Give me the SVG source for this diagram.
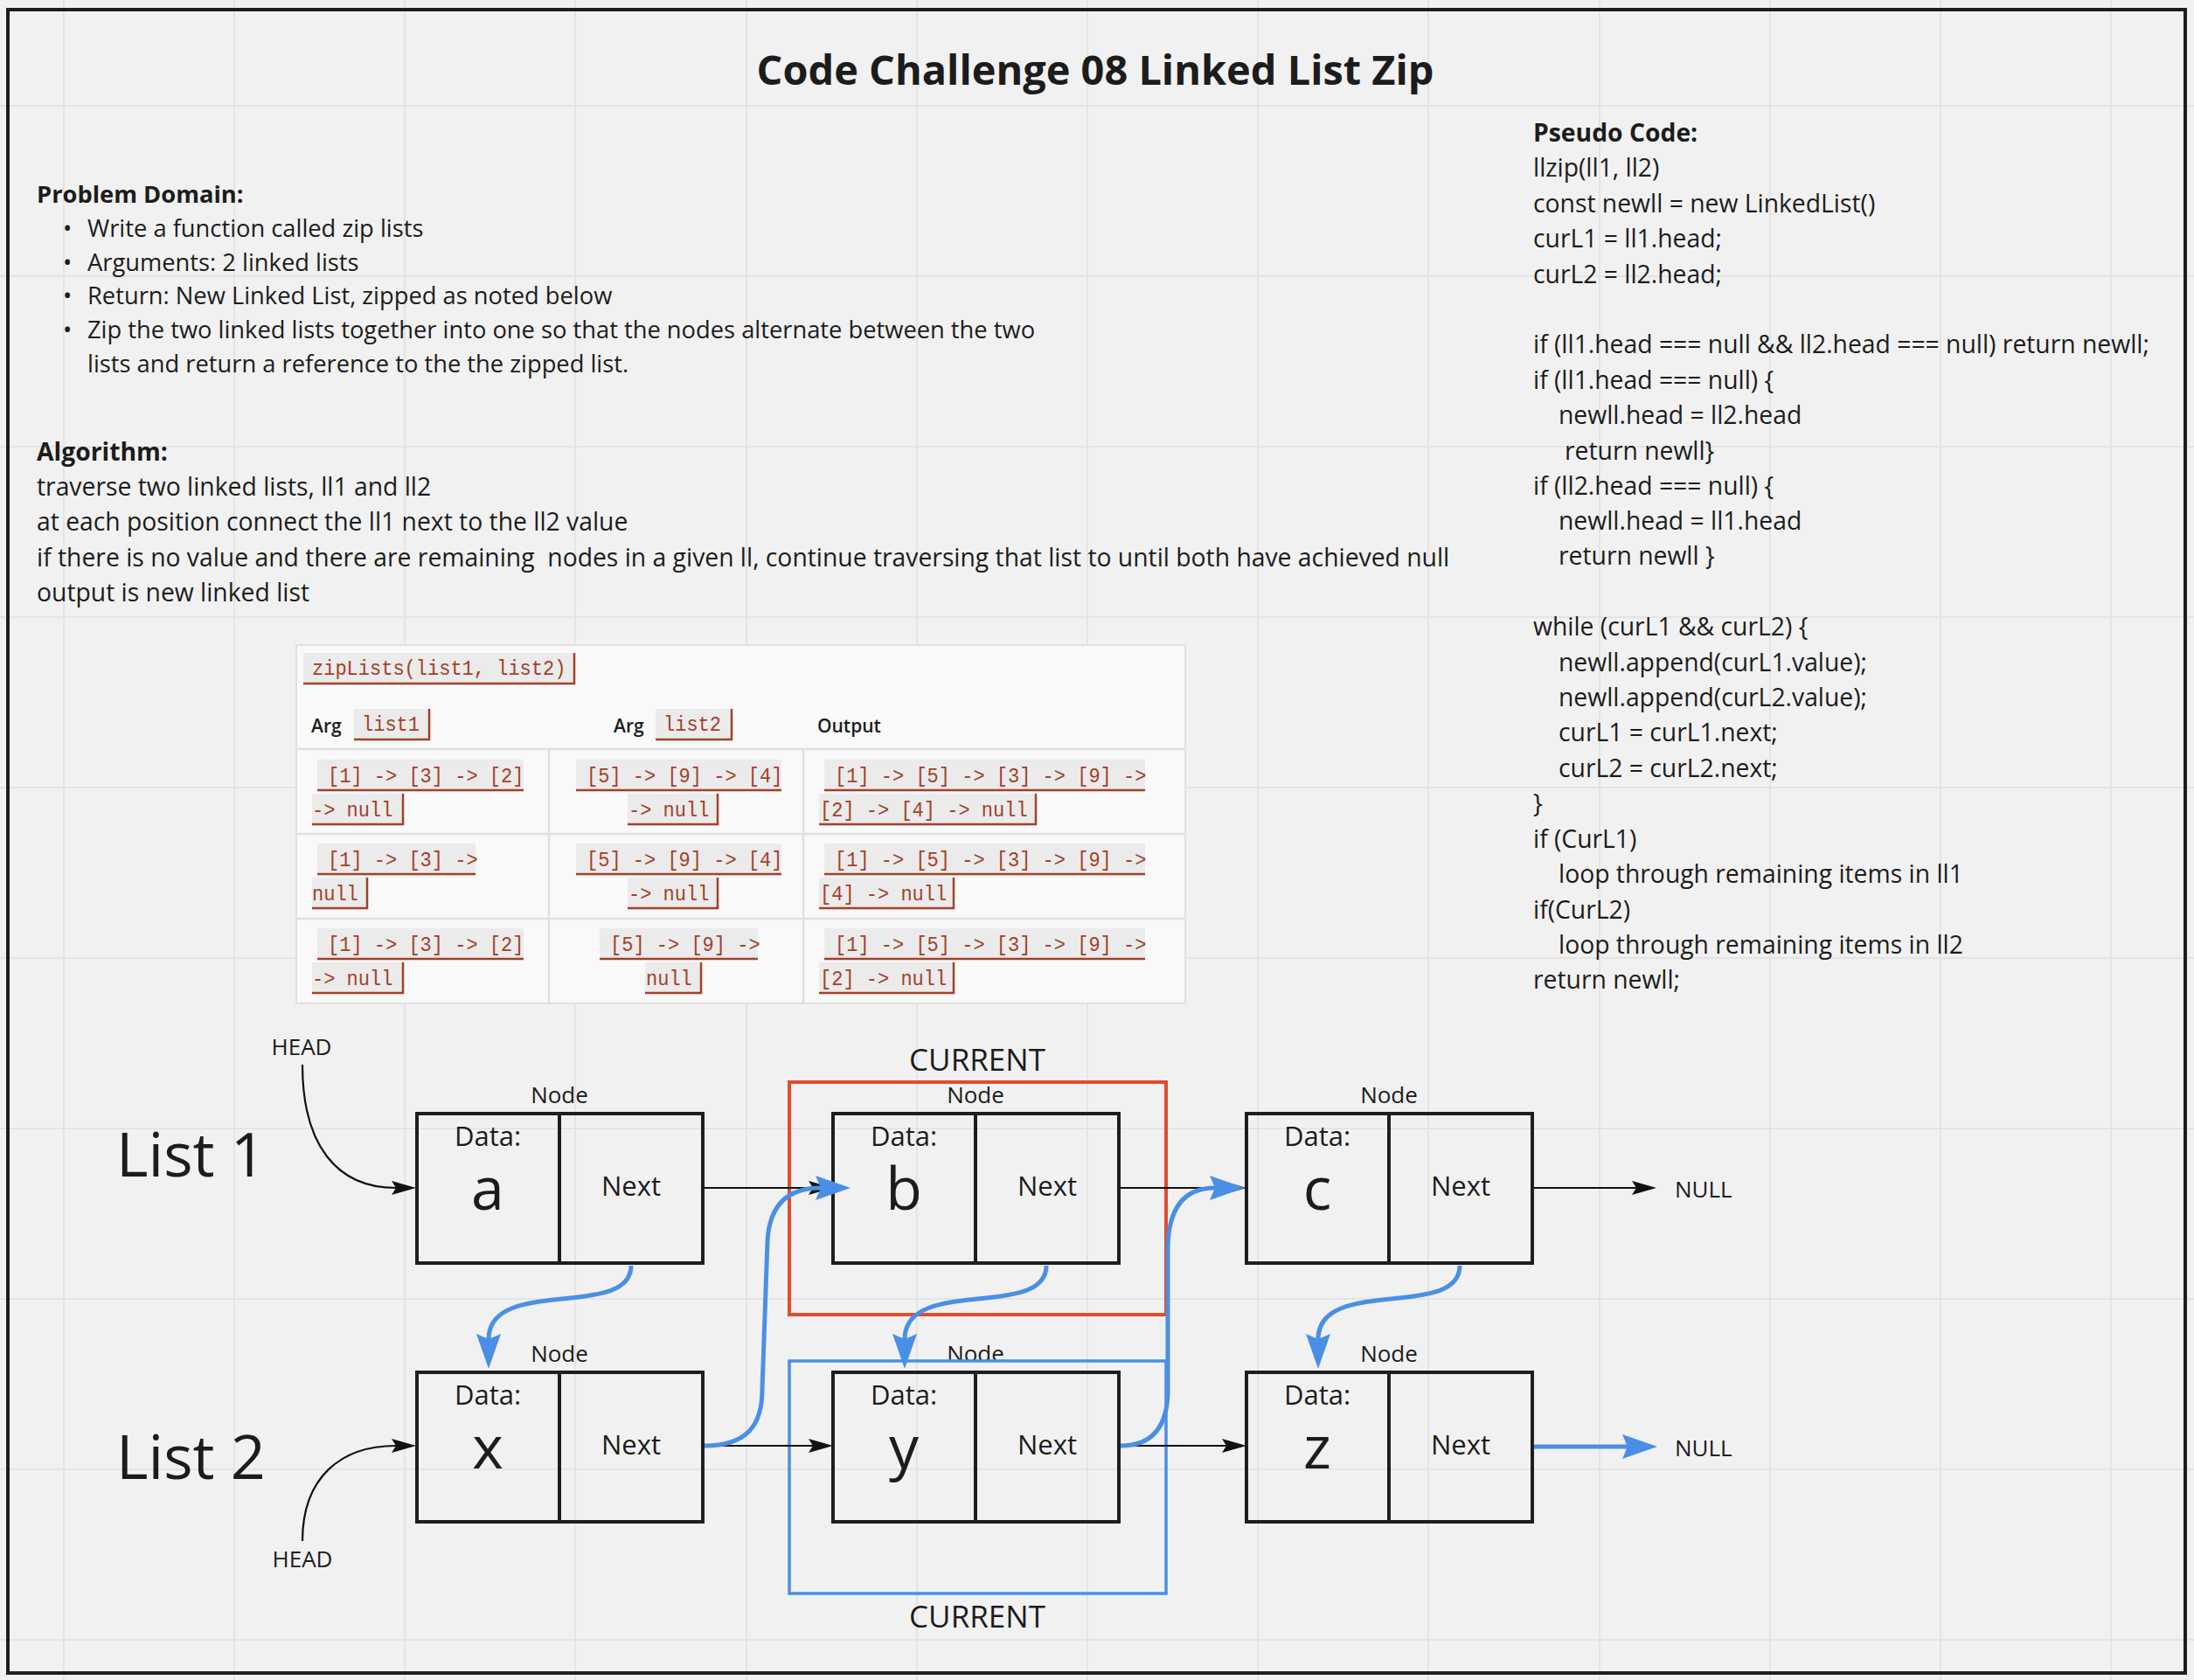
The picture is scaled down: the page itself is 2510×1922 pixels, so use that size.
<svg xmlns="http://www.w3.org/2000/svg" width="2510" height="1922" viewBox="0 0 2510 1922">
<style>
.t{font-family:"Open Sans","Noto Sans",sans-serif;fill:#1c1c1c}
.bd{font-weight:700}
.pd{font-size:27.3px}
.al{font-size:28.3px}
.ps{font-size:28.3px}
.code{font-family:"Liberation Mono","DejaVu Sans Mono",monospace;font-size:24.5px;fill:#a3402a;white-space:pre}
.chip{fill:#ebebeb}
.cb{fill:none;stroke:#a3402a;stroke-width:2.5}
.th{font-family:"Open Sans","Noto Sans",sans-serif;font-size:21px;font-weight:600;fill:#1c1c1c}
.box{fill:none;stroke:#1e1e1e;stroke-width:4}
.nl{font-size:26px;text-anchor:middle}
.dl{font-size:31px;text-anchor:middle}
.val{font-size:68px;text-anchor:middle}
.blk{fill:none;stroke:#111;stroke-width:2.2}
.blu{fill:none;stroke:#4a8fe6;stroke-width:5}
</style>
<defs>
<marker id="ab" markerUnits="userSpaceOnUse" markerWidth="30" markerHeight="18" viewBox="0 0 30 18" refX="5" refY="8" orient="auto">
<path d="M0,0 L28,8 L0,16 L5,8 Z" fill="#111"/>
</marker>
<marker id="au" markerUnits="userSpaceOnUse" markerWidth="42" markerHeight="30" viewBox="0 0 42 30" refX="6" refY="14" orient="auto">
<path d="M0,0 L40,14 L0,28 L6,14 Z" fill="#4a8fe6"/>
</marker>
</defs>
<rect x="0" y="0" width="2510" height="1922" fill="#f1f1f1"/>
<path d="M73 0V1922M268 0V1922M463 0V1922M658 0V1922M854 0V1922M1049 0V1922M1244 0V1922M1439 0V1922M1634 0V1922M1830 0V1922M2025 0V1922M2220 0V1922M2415 0V1922M0 121H2510M0 316H2510M0 511H2510M0 706H2510M0 901H2510M0 1096H2510M0 1291H2510M0 1486H2510M0 1681H2510M0 1876H2510" stroke="#e4e4e4" stroke-width="2" fill="none"/>
<rect x="9" y="11" width="2491" height="1903" fill="none" stroke="#1e1e1e" stroke-width="4"/>

<text class="t bd" x="1253" y="97" font-size="46.9" text-anchor="middle">Code Challenge 08 Linked List Zip</text>

<g id="problem-domain">
<text class="t bd pd" x="42" y="232">Problem Domain:</text>
<text class="t pd" x="72" y="271">•</text><text class="t pd" x="100" y="271">Write a function called zip lists</text>
<text class="t pd" x="72" y="310">•</text><text class="t pd" x="100" y="310">Arguments: 2 linked lists</text>
<text class="t pd" x="72" y="348">•</text><text class="t pd" x="100" y="348">Return: New Linked List, zipped as noted below</text>
<text class="t pd" x="72" y="387">•</text><text class="t pd" x="100" y="387">Zip the two linked lists together into one so that the nodes alternate between the two</text>
<text class="t pd" x="100" y="426">lists and return a reference to the the zipped list.</text>
</g>

<g id="algorithm">
<text class="t bd al" x="42" y="527">Algorithm:</text>
<text class="t al" x="42" y="567">traverse two linked lists, ll1 and ll2</text>
<text class="t al" x="42" y="607">at each position connect the ll1 next to the ll2 value</text>
<text class="t al" x="42" y="648" style="white-space:pre">if there is no value and there are remaining  nodes in a given ll, continue traversing that list to until both have achieved null</text>
<text class="t al" x="42" y="688">output is new linked list</text>
</g>

<g id="pseudo-code">
<text class="t bd ps" x="1754" y="162">Pseudo Code:</text>
<text class="t ps" x="1754" y="202">llzip(ll1, ll2)</text>
<text class="t ps" x="1754" y="243">const newll = new LinkedList()</text>
<text class="t ps" x="1754" y="283">curL1 = ll1.head;</text>
<text class="t ps" x="1754" y="324">curL2 = ll2.head;</text>
<text class="t ps" x="1754" y="404">if (ll1.head === null &amp;&amp; ll2.head === null) return newll;</text>
<text class="t ps" x="1754" y="445">if (ll1.head === null) {</text>
<text class="t ps" x="1783" y="485">newll.head = ll2.head</text>
<text class="t ps" x="1790" y="526">return newll}</text>
<text class="t ps" x="1754" y="566">if (ll2.head === null) {</text>
<text class="t ps" x="1783" y="606">newll.head = ll1.head</text>
<text class="t ps" x="1783" y="646">return newll }</text>
<text class="t ps" x="1754" y="727">while (curL1 &amp;&amp; curL2) {</text>
<text class="t ps" x="1783" y="768">newll.append(curL1.value);</text>
<text class="t ps" x="1783" y="808">newll.append(curL2.value);</text>
<text class="t ps" x="1783" y="848">curL1 = curL1.next;</text>
<text class="t ps" x="1783" y="889">curL2 = curL2.next;</text>
<text class="t ps" x="1754" y="929">}</text>
<text class="t ps" x="1754" y="970">if (CurL1)</text>
<text class="t ps" x="1783" y="1010">loop through remaining items in ll1</text>
<text class="t ps" x="1754" y="1051">if(CurL2)</text>
<text class="t ps" x="1783" y="1091">loop through remaining items in ll2</text>
<text class="t ps" x="1754" y="1131">return newll;</text>
</g>

<g id="example-table">
<rect x="339" y="738" width="1017" height="410" fill="#f9f9f9" stroke="#e0e0e0" stroke-width="2"/>
<path d="M339 857H1356M339 954H1356M339 1051H1356M628 857V1148M919 857V1148" stroke="#e0e0e0" stroke-width="2.5" fill="none"/>
<rect class="chip" x="347" y="747" width="310" height="35"/><path class="cb" d="M347 782H657V747"/>
<text class="code" x="357" y="772" textLength="290.4" lengthAdjust="spacingAndGlyphs">zipLists(list1, list2)</text>
<text class="th" x="356" y="838">Arg</text>
<rect class="chip" x="405" y="811" width="86" height="35"/><path class="cb" d="M405 846H491V811"/>
<text class="code" x="414" y="836" textLength="66" lengthAdjust="spacingAndGlyphs">list1</text>
<text class="th" x="702" y="838">Arg</text>
<rect class="chip" x="750" y="811" width="87" height="35"/><path class="cb" d="M750 846H837V811"/>
<text class="code" x="759" y="836" textLength="66" lengthAdjust="spacingAndGlyphs">list2</text>
<text class="th" x="935" y="838">Output</text>

<rect class="chip" x="363" y="869" width="236" height="35"/><path class="cb" d="M363 904H599"/>
<text class="code" x="375" y="895" textLength="224.4" lengthAdjust="spacingAndGlyphs">[1] -&gt; [3] -&gt; [2]</text>
<rect class="chip" x="357" y="908" width="104" height="35"/><path class="cb" d="M357 943H461V908"/>
<text class="code" x="357" y="934" textLength="92.4" lengthAdjust="spacingAndGlyphs">-&gt; null</text>
<rect class="chip" x="659" y="869" width="235" height="35"/><path class="cb" d="M659 904H894"/>
<text class="code" x="671" y="895" textLength="224.4" lengthAdjust="spacingAndGlyphs">[5] -&gt; [9] -&gt; [4]</text>
<rect class="chip" x="718" y="908" width="103" height="35"/><path class="cb" d="M718 943H821V908"/>
<text class="code" x="719" y="934" textLength="92.4" lengthAdjust="spacingAndGlyphs">-&gt; null</text>
<rect class="chip" x="943" y="869" width="367" height="35"/><path class="cb" d="M943 904H1310"/>
<text class="code" x="955" y="895" textLength="356.4" lengthAdjust="spacingAndGlyphs">[1] -&gt; [5] -&gt; [3] -&gt; [9] -&gt;</text>
<rect class="chip" x="937" y="908" width="248" height="35"/><path class="cb" d="M937 943H1185V908"/>
<text class="code" x="938" y="934" textLength="237.6" lengthAdjust="spacingAndGlyphs">[2] -&gt; [4] -&gt; null</text>

<rect class="chip" x="363" y="965" width="181" height="35"/><path class="cb" d="M363 1000H544"/>
<text class="code" x="375" y="991" textLength="171.6" lengthAdjust="spacingAndGlyphs">[1] -&gt; [3] -&gt;</text>
<rect class="chip" x="357" y="1004" width="63" height="35"/><path class="cb" d="M357 1039H420V1004"/>
<text class="code" x="357" y="1030" textLength="52.8" lengthAdjust="spacingAndGlyphs">null</text>
<rect class="chip" x="659" y="965" width="235" height="35"/><path class="cb" d="M659 1000H894"/>
<text class="code" x="671" y="991" textLength="224.4" lengthAdjust="spacingAndGlyphs">[5] -&gt; [9] -&gt; [4]</text>
<rect class="chip" x="718" y="1004" width="103" height="35"/><path class="cb" d="M718 1039H821V1004"/>
<text class="code" x="719" y="1030" textLength="92.4" lengthAdjust="spacingAndGlyphs">-&gt; null</text>
<rect class="chip" x="943" y="965" width="367" height="35"/><path class="cb" d="M943 1000H1310"/>
<text class="code" x="955" y="991" textLength="356.4" lengthAdjust="spacingAndGlyphs">[1] -&gt; [5] -&gt; [3] -&gt; [9] -&gt;</text>
<rect class="chip" x="937" y="1004" width="154" height="35"/><path class="cb" d="M937 1039H1091V1004"/>
<text class="code" x="938" y="1030" textLength="145.2" lengthAdjust="spacingAndGlyphs">[4] -&gt; null</text>

<rect class="chip" x="363" y="1062" width="236" height="35"/><path class="cb" d="M363 1097H599"/>
<text class="code" x="375" y="1088" textLength="224.4" lengthAdjust="spacingAndGlyphs">[1] -&gt; [3] -&gt; [2]</text>
<rect class="chip" x="357" y="1101" width="104" height="35"/><path class="cb" d="M357 1136H461V1101"/>
<text class="code" x="357" y="1127" textLength="92.4" lengthAdjust="spacingAndGlyphs">-&gt; null</text>
<rect class="chip" x="686" y="1062" width="181" height="35"/><path class="cb" d="M686 1097H867"/>
<text class="code" x="698" y="1088" textLength="171.6" lengthAdjust="spacingAndGlyphs">[5] -&gt; [9] -&gt;</text>
<rect class="chip" x="738" y="1101" width="64" height="35"/><path class="cb" d="M738 1136H802V1101"/>
<text class="code" x="739" y="1127" textLength="52.8" lengthAdjust="spacingAndGlyphs">null</text>
<rect class="chip" x="943" y="1062" width="367" height="35"/><path class="cb" d="M943 1097H1310"/>
<text class="code" x="955" y="1088" textLength="356.4" lengthAdjust="spacingAndGlyphs">[1] -&gt; [5] -&gt; [3] -&gt; [9] -&gt;</text>
<rect class="chip" x="937" y="1101" width="154" height="35"/><path class="cb" d="M937 1136H1091V1101"/>
<text class="code" x="938" y="1127" textLength="145.2" lengthAdjust="spacingAndGlyphs">[2] -&gt; null</text>
</g>

<g id="labels">
<text class="t" x="133" y="1346" font-size="70">List 1</text>
<text class="t" x="133" y="1692" font-size="70">List 2</text>
<text class="t" x="345" y="1207" font-size="26" text-anchor="middle">HEAD</text>
<text class="t" x="346" y="1793" font-size="26" text-anchor="middle">HEAD</text>
<text class="t" x="1118" y="1225" font-size="35" text-anchor="middle">CURRENT</text>
<text class="t" x="1118" y="1862" font-size="35" text-anchor="middle">CURRENT</text>
<text class="t" x="1916" y="1370" font-size="26">NULL</text>
<text class="t" x="1916" y="1666" font-size="26">NULL</text>
</g>

<g id="node-a">
<text class="t nl" x="640" y="1262">Node</text>
<rect class="box" x="477" y="1274" width="327" height="171"/><path class="box" d="M640 1274V1445"/>
<text class="t dl" x="558" y="1311">Data:</text><text class="t val" x="558" y="1384">a</text><text class="t dl" x="722" y="1368">Next</text>
</g>
<g id="node-b">
<text class="t nl" x="1116" y="1262">Node</text>
<rect class="box" x="953" y="1274" width="327" height="171"/><path class="box" d="M1116 1274V1445"/>
<text class="t dl" x="1034" y="1311">Data:</text><text class="t val" x="1034" y="1384">b</text><text class="t dl" x="1198" y="1368">Next</text>
</g>
<g id="node-c">
<text class="t nl" x="1589" y="1262">Node</text>
<rect class="box" x="1426" y="1274" width="327" height="171"/><path class="box" d="M1589 1274V1445"/>
<text class="t dl" x="1507" y="1311">Data:</text><text class="t val" x="1507" y="1384">c</text><text class="t dl" x="1671" y="1368">Next</text>
</g>
<g id="node-x">
<text class="t nl" x="640" y="1558">Node</text>
<rect class="box" x="477" y="1570" width="327" height="171"/><path class="box" d="M640 1570V1741"/>
<text class="t dl" x="558" y="1607">Data:</text><text class="t val" x="558" y="1680">x</text><text class="t dl" x="722" y="1664">Next</text>
</g>
<g id="node-y">
<text class="t nl" x="1116" y="1558">Node</text>
<rect class="box" x="953" y="1570" width="327" height="171"/><path class="box" d="M1116 1570V1741"/>
<text class="t dl" x="1034" y="1607">Data:</text><text class="t val" x="1034" y="1680">y</text><text class="t dl" x="1198" y="1664">Next</text>
</g>
<g id="node-z">
<text class="t nl" x="1589" y="1558">Node</text>
<rect class="box" x="1426" y="1570" width="327" height="171"/><path class="box" d="M1589 1570V1741"/>
<text class="t dl" x="1507" y="1607">Data:</text><text class="t val" x="1507" y="1680">z</text><text class="t dl" x="1671" y="1664">Next</text>
</g>

<g id="current-frames">
<rect x="903" y="1238" width="431" height="266" fill="none" stroke="#df4d2f" stroke-width="4"/>
<rect x="903" y="1557" width="431" height="266" fill="none" stroke="#4a8fe6" stroke-width="3.5"/>
</g>

<g id="connectors">
<path class="blk" marker-end="url(#ab)" d="M346 1218C346 1310 385 1359 453 1359"/>
<path class="blk" marker-end="url(#ab)" d="M346 1763C346 1690 390 1654 453 1654"/>
<path class="blk" marker-end="url(#ab)" d="M806 1359H930"/>
<path class="blk" marker-end="url(#ab)" d="M1282 1359H1403"/>
<path class="blk" marker-end="url(#ab)" d="M1755 1359H1872"/>
<path class="blk" marker-end="url(#ab)" d="M806 1654H930"/>
<path class="blk" marker-end="url(#ab)" d="M1282 1654H1403"/>
<path class="blu" marker-end="url(#au)" d="M722 1448C722 1510 559 1460 559 1532"/>
<path class="blu" marker-end="url(#au)" d="M1197 1448C1197 1510 1035 1460 1035 1532"/>
<path class="blu" marker-end="url(#au)" d="M1670 1448C1670 1510 1508 1460 1508 1532"/>
<path class="blu" marker-end="url(#au)" d="M806 1654C855 1654 872 1630 872 1590L878 1420C880 1380 900 1359 939 1359"/>
<path class="blu" marker-end="url(#au)" d="M1282 1654C1320 1654 1336 1630 1336 1590L1336 1430C1336 1385 1352 1359 1390 1359"/>
<path class="blu" marker-end="url(#au)" d="M1755 1655H1862"/>
</g>
</svg>
